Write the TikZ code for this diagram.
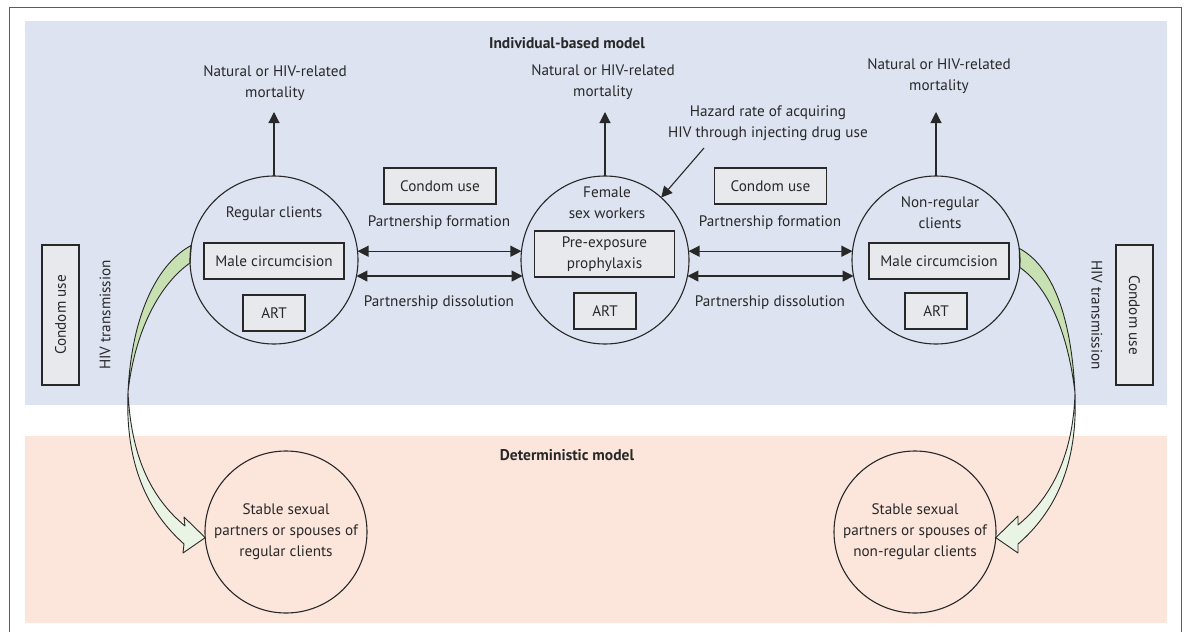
\documentclass[tikz,border=0pt]{standalone}
\usepackage{fontspec}
\setmainfont{PT Sans}
\usetikzlibrary{arrows.meta,backgrounds}
\definecolor{panelblue}{RGB}{221,227,240}
\definecolor{panelpink}{RGB}{252,230,220}
\definecolor{boxgray}{RGB}{232,233,237}
\definecolor{inkgray}{RGB}{40,40,40}
\definecolor{framered}{RGB}{200,40,80}
\definecolor{ribbondark}{RGB}{200,225,178}
\definecolor{ribbonlight}{RGB}{234,244,228}
\begin{document}
\begin{tikzpicture}[x=1pt,y=-1pt, font=\fontsize{15.2}{21}\selectfont, text=inkgray,
  every node/.style={inner sep=0pt, outer sep=0pt},
  ring/.style={circle, draw=inkgray, line width=1.1pt, minimum size=168pt},
  sring/.style={circle, draw=inkgray, line width=1.1pt, minimum size=162pt, align=center},
  gbox/.style={draw=inkgray, fill=boxgray, line width=1.2pt, align=center},
  lbl/.style={align=center},
  ttl/.style={font=\fontsize{15.5}{21}\selectfont\bfseries},
  arr/.style={draw=inkgray, line width=1.1pt, -{Triangle[width=11pt,length=11pt]}},
  dbl/.style={draw=inkgray, line width=1.1pt, {Triangle[width=11pt,length=11pt]}-{Triangle[width=11pt,length=11pt]}},
  rib/.style={draw=inkgray, line width=0.9pt, line join=round}
]
\useasboundingbox (0,0) rectangle (1184,632);
\begin{scope}[on background layer]
\fill[white] (0,0) rectangle (1184,632);
\fill[panelblue] (25,21) rectangle (1167,405);
\fill[panelpink] (25,436) rectangle (1167,623);
\end{scope}
\draw[framered, line width=1pt] (9,640) -- (9,7) -- (1181,7) -- (1181,640);

% titles
\node[ttl] (tIBM) at (567,43) {Individual-based model};
\node[ttl] (tDM) at (567,455) {Deterministic model};

% main circles
\node[ring] (rc) at (274,260) {};
\node[ring] (fsw) at (605,260) {};
\node[ring] (nrc) at (936,260) {};
\node[sring] (sL) at (286,532) {Stable sexual\\partners or spouses of\\regular clients};
\node[sring] (sR) at (915,532) {Stable sexual\\partners or spouses of\\non-regular clients};

% inner labels and boxes
\node[lbl] (rcT) at (274,214) {Regular clients};
\node[gbox, minimum width=140pt, minimum height=36pt] (mcL) at (274,261) {Male circumcision};
\node[gbox, minimum width=62pt, minimum height=36pt] (artL) at (274,313) {ART};

\node[lbl] (fswT) at (607,203) {Female\\sex workers};
\node[gbox, minimum width=140pt, minimum height=46pt] (prep) at (604.5,254) {Pre-exposure\\prophylaxis};
\node[gbox, minimum width=62pt, minimum height=36pt] (artM) at (605,311) {ART};

\node[lbl] (nrcT) at (940,213) {Non-regular\\clients};
\node[gbox, minimum width=140pt, minimum height=36pt] (mcR) at (939,261) {Male circumcision};
\node[gbox, minimum width=62pt, minimum height=36pt] (artR) at (936,311) {ART};

% condom use boxes
\node[gbox, minimum width=112pt, minimum height=36pt] (cuM1) at (440,186) {Condom use};
\node[gbox, minimum width=112pt, minimum height=36pt] (cuM2) at (770.5,186) {Condom use};
\node[gbox, rotate=90, minimum width=140pt, minimum height=37pt] (cuL) at (60.5,315) {Condom use};
\node[gbox, rotate=-90, minimum width=140pt, minimum height=37pt] (cuR) at (1134.5,315) {Condom use};

% HIV transmission labels
\node[rotate=90] (htL) at (105,315) {HIV transmission};
\node[rotate=-90] (htR) at (1097,315) {HIV transmission};

% partnership labels
\node (pfL) at (439,223) {Partnership formation};
\node (pdL) at (439,303) {Partnership dissolution};
\node (pfR) at (770,223) {Partnership formation};
\node (pdR) at (770,303) {Partnership dissolution};

% mortality labels
\node[lbl] (mL) at (275,83) {Natural or HIV-related\\mortality};
\node[lbl] (mM) at (603,82) {Natural or HIV-related\\mortality};
\node[lbl] (mR) at (939,76) {Natural or HIV-related\\mortality};
\node[lbl] (hz) at (768,123) {Hazard rate of acquiring\\HIV through injecting drug use};

\coordinate (mLtip) at (274,112);
\coordinate (mMtip) at (605,112);
\coordinate (mRtip) at (936,112);
\coordinate (hzStart) at (704,148);

% arrows
\draw[arr] (rc.north) -- (mLtip);
\draw[arr] (fsw.north) -- (mMtip);
\draw[arr] (nrc.north) -- (mRtip);
\draw[arr] (hzStart) -- (fsw.48);

\draw[dbl] (rc.6) -- (fsw.174);
\draw[dbl] (rc.-11) -- (fsw.191);
\draw[dbl] (fsw.6) -- (nrc.174);
\draw[dbl] (fsw.-11) -- (nrc.191);

% HIV transmission ribbons
\begin{scope}[on background layer]
\filldraw[rib, fill=ribbondark] (rc.170) .. controls (160,262) and (132,310) .. (128,392)
   .. controls (135,330) and (160,284) .. (rc.182) -- cycle;
\filldraw[rib, fill=ribbonlight] (128,392) .. controls (125,465) and (148,512) .. (184,544)
   -- (183,553) -- (sL.184) -- (184,517) -- (185,526)
   .. controls (150,497) and (131,455) .. (128,392) -- cycle;
\filldraw[rib, fill=ribbondark] (nrc.8) .. controls (1050,265) and (1071,310) .. (1075,393)
   .. controls (1068,332) and (1048,287) .. (nrc.-5) -- cycle;
\filldraw[rib, fill=ribbonlight] (1075,393) .. controls (1078,465) and (1055,512) .. (1018,544)
   -- (1018,553) -- (sR.-4) -- (1018,516) -- (1018,525)
   .. controls (1052,497) and (1073,455) .. (1075,393) -- cycle;
\end{scope}
\end{tikzpicture}
\end{document}
